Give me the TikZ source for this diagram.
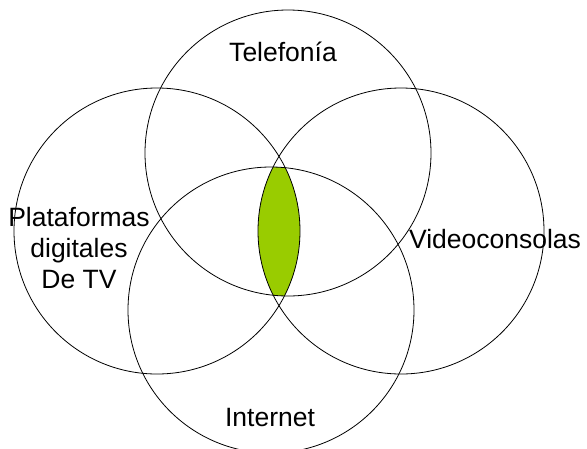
\documentclass[tikz,border=0pt]{standalone}
\usepackage{fontspec}
\setmainfont{Liberation Sans}
\definecolor{greenFill}{HTML}{99CC00}

\begin{document}
\begin{tikzpicture}
[x=1pt,y=-1pt,%
  setDecorate/.style={line width=0.8pt},%
  labelDecorate/.style={font=\fontsize{26.5}{31}\selectfont,inner sep=0pt,anchor=base,align=center}]
\useasboundingbox (0,0) rectangle (587,448);
%% centres of the sets
\foreach \setname/\x/\y in {
  tel/288/153, pla/157/231, vid/401/231, int/271/310}
{
  \coordinate (\setname) at (\x,\y);
}
%% common part of the four sets
\begin{scope}
  \clip (tel) circle[radius=143pt];
  \clip (pla) circle[radius=143pt];
  \clip (vid) circle[radius=143pt];
  \fill[greenFill] (int) circle[radius=143pt];
\end{scope}
%% outlines
\foreach \setname in {tel, pla, vid, int}
{
  \draw[setDecorate] (\setname) circle[radius=143pt];
}
%% labels
\node (telLabel) at (283,61) [labelDecorate] {Telefonía};
\node (plaLabel) at (79,288) [labelDecorate] {Plataformas\\digitales\\De TV};
\node (vidLabel) at (495,248) [labelDecorate] {Videoconsolas};
\node (intLabel) at (270,426) [labelDecorate] {Internet};
\end{tikzpicture}
\end{document}
